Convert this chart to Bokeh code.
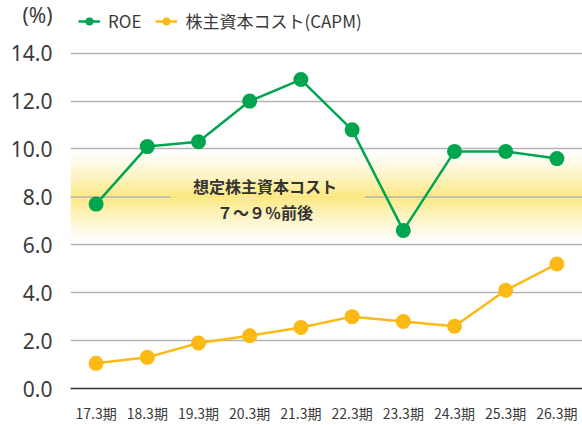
from bokeh.plotting import figure
from bokeh.models import Range1d, FixedTicker, NumeralTickFormatter, Legend, LegendItem, ColumnDataSource
from bokeh.embed import file_html
from bokeh.resources import INLINE
from bokeh.core.properties import value

periods = ["17.3期", "18.3期", "19.3期", "20.3期", "21.3期", "22.3期", "23.3期", "24.3期", "25.3期", "26.3期"]
roe = [7.7, 10.1, 10.3, 12.0, 12.9, 10.8, 6.6, 9.9, 9.9, 9.6]
capm = [1.05, 1.3, 1.9, 2.2, 2.55, 3.0, 2.8, 2.6, 4.1, 5.2]
y_ticks = [0, 2, 4, 6, 8, 10, 12, 14]
unit_label = "(%)"
band_low, band_mid, band_high = 6.0, 8.0, 10.0
band_label_lines = ["想定株主資本コスト", "７～９％前後"]

GREEN = "#00A54F"
YELLOW = "#FDB913"
FONT = "Noto Sans CJK JP"

xs = list(range(len(periods)))
UNIT_Y = 15.65

p = figure(width=582, height=425, output_backend="svg", toolbar_location=None,
           x_range=Range1d(-0.5, len(periods) - 0.5), y_range=Range1d(0, 16.2),
           min_border_left=70, min_border_right=0, min_border_top=0, min_border_bottom=37)
p.outline_line_color = None
p.background_fill_color = "white"

# gradient band
n = 60
bot, top, cols = [], [], []
step = (band_high - band_low) / n
for i in range(n):
    b = band_low + i * step
    t = b + step
    mid = (b + t) / 2
    k = max(0.0, 1 - abs(mid - band_mid) / (band_high - band_mid))
    k = k ** 1.3
    r = int(255 + (252 - 255) * k)
    g = int(255 + (230 - 255) * k)
    bl = int(255 + (120 - 255) * k)
    bot.append(max(b, band_low + 0.08))
    top.append(min(t, band_high - 0.04))
    cols.append("#%02x%02x%02x" % (r, g, bl))
p.quad(left=-0.5, right=len(periods) - 0.5, bottom=bot, top=top, fill_color=cols, line_color=None)

# gridlines
p.xgrid.visible = False
p.ygrid.ticker = FixedTicker(ticks=[t for t in y_ticks if t not in (0, band_mid)])
p.ygrid.grid_line_color = "#b3b3b3"
p.ygrid.grid_line_width = 1.5
p.segment(x0=[-0.5, 5.25], x1=[1.45, len(periods) - 0.5], y0=[band_mid, band_mid], y1=[band_mid, band_mid],
          line_color="#b3b3b3", line_width=1.5)

# axes
p.yaxis.ticker = FixedTicker(ticks=y_ticks + [UNIT_Y])
p.yaxis.formatter = NumeralTickFormatter(format="0.0")
p.yaxis.major_label_overrides = {UNIT_Y: unit_label}
p.yaxis.axis_line_color = None
p.yaxis.major_tick_line_color = None
p.yaxis.minor_tick_line_color = None
p.yaxis.major_label_text_font = "Noto Sans"
p.yaxis.major_label_text_font_size = "21px"
p.yaxis.major_label_text_color = "#3a3a3a"
p.yaxis.major_label_standoff = 12

p.xaxis.ticker = FixedTicker(ticks=xs)
p.xaxis.major_label_overrides = {i: s for i, s in enumerate(periods)}
p.xaxis.axis_line_color = "#333333"
p.xaxis.axis_line_width = 1.5
p.xaxis.major_tick_line_color = None
p.xaxis.minor_tick_line_color = None
p.xaxis.major_label_text_font = FONT
p.xaxis.major_label_text_font_size = "14px"
p.xaxis.major_label_text_color = "#3a3a3a"
p.xaxis.major_label_standoff = 8

# band label
p.text(x=[3.3, 3.3], y=[8.47, 7.38], text=band_label_lines, text_font=value(FONT), text_font_size="16px",
       text_font_style="bold", text_color="#333333", text_align="center", text_baseline="middle")

# series
src = ColumnDataSource(dict(x=xs, roe=roe, capm=capm))
l1 = p.line("x", "roe", source=src, line_color=GREEN, line_width=2.5)
s1 = p.scatter("x", "roe", source=src, size=15, fill_color=GREEN, line_color=None)
l2 = p.line("x", "capm", source=src, line_color=YELLOW, line_width=2.5)
s2 = p.scatter("x", "capm", source=src, size=15, fill_color=YELLOW, line_color=None)

legend = Legend(items=[LegendItem(label="ROE", renderers=[l1, s1]),
                       LegendItem(label="株主資本コスト(CAPM)", renderers=[l2, s2])],
                orientation="horizontal", location="top_left", padding=0, margin=8, spacing=14,
                glyph_width=22, glyph_height=20, label_standoff=8,
                label_text_font=FONT, label_text_font_size="17px", label_text_color="#3a3a3a",
                background_fill_alpha=0, border_line_color=None)
p.add_layout(legend)

open("out.html", "w").write(file_html(p, INLINE))
